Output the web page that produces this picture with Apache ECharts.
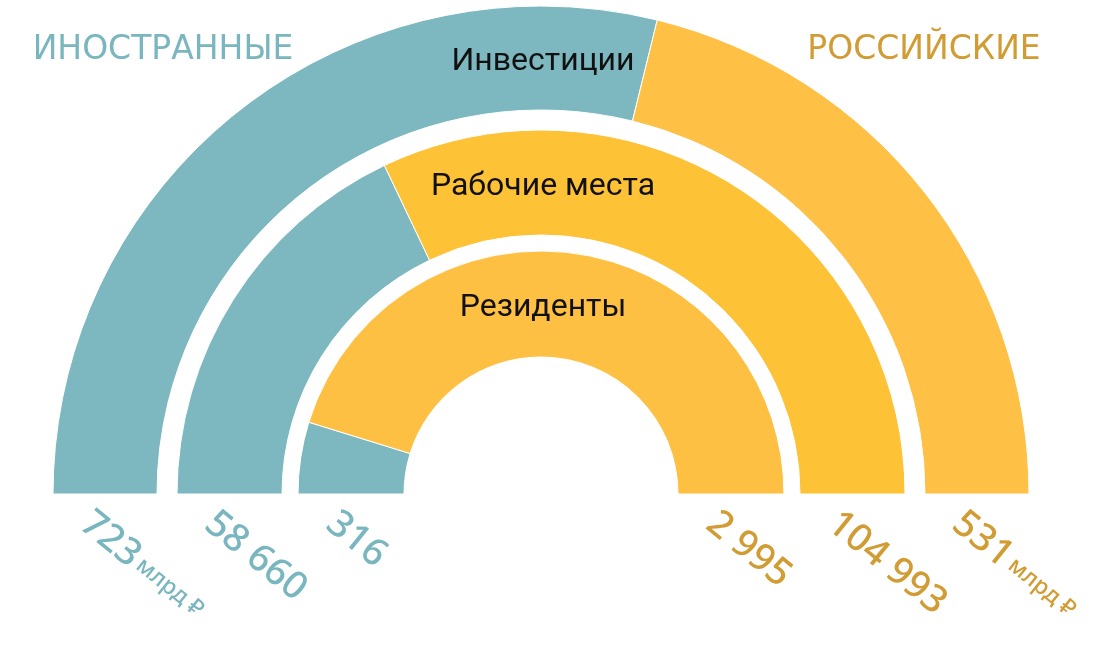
<!DOCTYPE html>
<html>
<head>
<meta charset="utf-8">
<script src="https://cdn.jsdelivr.net/npm/echarts@6/dist/echarts.min.js"></script>
<style>
html,body{margin:0;padding:0;background:#fff;}
#chart{width:1106px;height:645px;}
</style>
</head>
<body>
<div id="chart"></div>
<script>
// ---- data ----
const rings = ['Инвестиции', 'Рабочие места', 'Резиденты'];
const groups = ['ИНОСТРАННЫЕ', 'РОССИЙСКИЕ'];
const foreignValues = [723, 58660, 316];
const russianValues = [531, 104993, 2995];
const units = ['млрд ₽', '', ''];

// ---- style ----
const TEAL = '#7db8c0';
const ORANGE = ['#fec045', '#fdc236', '#fec043'];
const TEAL_TEXT = '#79b6bf';
const GOLD_TEXT = '#d19c33';
const CX = 541, CY = 494;
const RADII = [[384, 488], [259, 364], [137, 243]];

function fmt(v) { return String(v).replace(/\B(?=(\d{3})+(?!\d))/g, ' '); }

const chart = echarts.init(document.getElementById('chart'));

const series = rings.map((name, i) => ({
  type: 'pie',
  name: name,
  center: [CX, CY],
  radius: RADII[i],
  startAngle: 180,
  endAngle: 0,
  clockwise: true,
  silent: true,
  z: 1,
  label: { show: false },
  labelLine: { show: false },
  itemStyle: { borderColor: '#ffffff', borderWidth: 1 },
  data: [
    { name: groups[0], value: foreignValues[i], itemStyle: { color: TEAL } },
    { name: groups[1], value: russianValues[i], itemStyle: { color: ORANGE[i] } }
  ]
}));

const graphics = [];
// header labels
graphics.push({
  type: 'text', x: 163, y: 50, z: 100,
  style: { text: groups[0], fill: TEAL_TEXT, font: '33px "DejaVu Sans"', textAlign: 'center', textVerticalAlign: 'middle' }
});
graphics.push({
  type: 'text', x: 924, y: 50, z: 100,
  style: { text: groups[1], fill: GOLD_TEXT, font: '33px "DejaVu Sans"', textAlign: 'center', textVerticalAlign: 'middle' }
});
// ring names at ring tops
rings.forEach((name, i) => {
  const mid = (RADII[i][0] + RADII[i][1]) / 2;
  graphics.push({
    type: 'text', x: CX + 2, y: CY - mid + 4, z: 100,
    style: { text: name, fill: '#111', font: '32px Roboto', textAlign: 'center', textVerticalAlign: 'middle' }
  });
});
// value labels under ring ends
const ROT = -39 * Math.PI / 180;
function valueLabel(v, unit, xMid, color) {
  const text = unit ? '{v|' + fmt(v) + '}{g| }{u|' + unit + '}' : '{v|' + fmt(v) + '}';
  graphics.push({
    type: 'text', x: xMid - 20, y: CY + 25, rotation: ROT, z: 100,
    style: {
      text: text, textAlign: 'left', textVerticalAlign: 'middle',
      rich: {
        v: { fill: color, font: '500 38px "Noto Sans"', verticalAlign: 'middle' },
        g: { font: '16px "Noto Sans"' },
        u: { fill: color, font: '500 23px "Noto Sans"', verticalAlign: 'middle' }
      }
    }
  });
}
rings.forEach((name, i) => {
  const mid = (RADII[i][0] + RADII[i][1]) / 2;
  valueLabel(foreignValues[i], units[i], CX - mid, TEAL_TEXT);
  valueLabel(russianValues[i], units[i], CX + mid, GOLD_TEXT);
});

chart.setOption({
  backgroundColor: '#ffffff',
  animation: false,
  series: series,
  graphic: { elements: graphics }
});
</script>
</body>
</html>
